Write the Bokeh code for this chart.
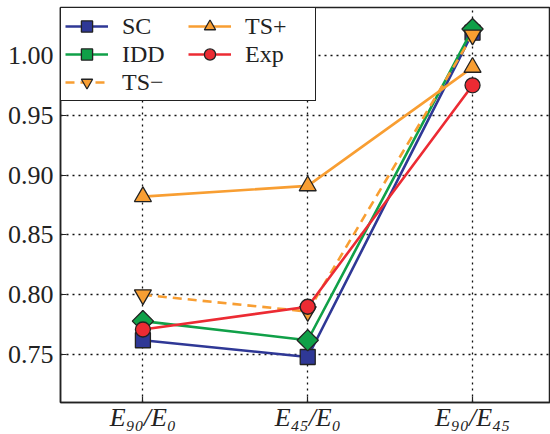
from bokeh.plotting import figure
from bokeh.models import Range1d, FixedTicker, Legend, LegendItem
from bokeh.embed import file_html
from bokeh.resources import INLINE
import math

categories = ["E₉₀/E₀", "E₄₅/E₀", "E₉₀/E₄₅"]
sc = [0.762, 0.748, 1.019]
idd = [0.778, 0.762, 1.022]
ts_minus = [0.800, 0.786, 1.017]
ts_plus = [0.882, 0.891, 0.990]
exp = [0.771, 0.790, 0.975]
y_ticks = [0.75, 0.80, 0.85, 0.90, 0.95, 1.00]

FONT = "Liberation Serif"
xs = list(range(len(categories)))

p = figure(width=550, height=434, output_backend="svg", toolbar_location=None,
           x_range=Range1d(-0.5, 2.473), y_range=Range1d(0.71, 1.04),
           min_border_left=60, min_border_right=0, min_border_top=7, min_border_bottom=31)
p.outline_line_color = "#222222"
p.outline_line_width = 1.5
p.background_fill_color = "white"

for ax in (p.xaxis[0], p.yaxis[0]):
    ax.axis_line_color = "#222222"
    ax.axis_line_width = 1.5
    ax.major_tick_in = 6
    ax.major_tick_out = 0
    ax.minor_tick_line_color = None
    ax.major_tick_line_color = "#222222"
    ax.major_tick_line_width = 1.2
    ax.major_label_text_font = FONT
    ax.major_label_text_font_size = "26px"
    ax.major_label_text_color = "#222222"

p.xaxis.ticker = FixedTicker(ticks=xs)
p.xaxis.major_label_overrides = {i: c for i, c in zip(xs, categories)}
p.xaxis.major_label_text_font_style = "italic"
p.xaxis.major_label_standoff = 0
p.yaxis.ticker = FixedTicker(ticks=y_ticks)
p.yaxis.major_label_overrides = {t: f"{t:.2f}" for t in y_ticks}
p.yaxis.major_label_standoff = 7

p.xgrid.ticker = FixedTicker(ticks=xs)
p.ygrid.ticker = FixedTicker(ticks=y_ticks)
for g in (p.xgrid[0], p.ygrid[0]):
    g.grid_line_color = "#111111"
    g.grid_line_dash = "2 4"
    g.grid_line_width = 1.3

series = [
    ("SC", sc, "#2f3896", "square", 15, 0, "solid"),
    ("IDD", idd, "#10a048", "square", 15, math.pi / 4, "solid"),
    ("TS−", ts_minus, "#f89e32", "inverted_triangle", 17, 0, "9 6"),
    ("TS+", ts_plus, "#f89e32", "triangle", 17, 0, "solid"),
    ("Exp", exp, "#ec2b33", "circle", 15, 0, "solid"),
]

items = []
for name, ys, col, mk, sz, ang, dash in series:
    ln = p.line(xs, ys, line_color=col, line_width=2.6, line_dash=dash)
    sc_r = p.scatter(xs, ys, marker=mk, size=sz, angle=ang, fill_color=col,
                     line_color="#222222", line_width=1.3)
    items.append(LegendItem(label=name, renderers=[ln, sc_r]))

legend = Legend(items=items, location="top_left", ncols=2,
                label_text_font=FONT, label_text_font_size="24px", label_text_color="#222222",
                border_line_color="#222222", border_line_width=1.5, border_line_alpha=1,
                background_fill_alpha=1, margin=0, padding=4, spacing=0,
                glyph_width=43, glyph_height=28, label_standoff=14, label_width=66)
p.add_layout(legend, "center")

open("out.html", "w").write(file_html(p, INLINE))
